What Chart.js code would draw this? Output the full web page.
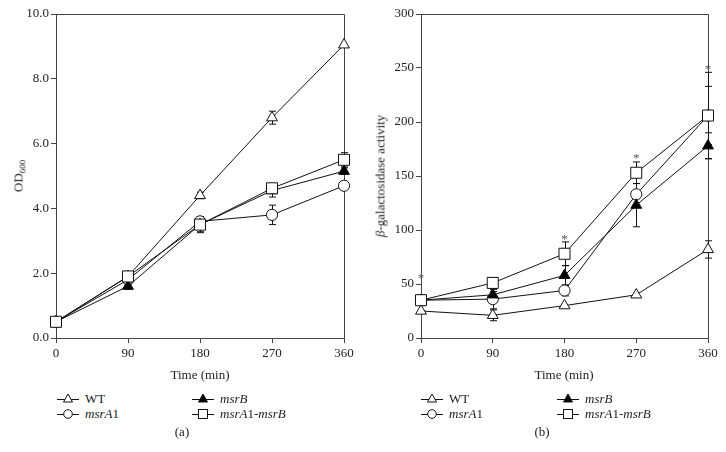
<!DOCTYPE html>
<html>
<head>
<meta charset="utf-8">
<script src="https://cdn.jsdelivr.net/npm/chart.js@4/dist/chart.umd.min.js"></script>
<style>
body { margin: 0; background: #fff; font-family: "Liberation Serif", "Times New Roman", serif; color: #222; }
#wrap { position: relative; width: 726px; height: 452px; overflow: hidden; }
canvas { position: absolute; top: 0; }
.txt { position: absolute; font-size: 13px; white-space: nowrap; line-height: 1; }
.ctr { transform: translate(-50%, -50%); }
.rot { transform: translate(-50%, -50%) rotate(-90deg); }
.leg { position: absolute; height: 14px; display: flex; align-items: center; font-size: 13px; white-space: nowrap; transform: translateY(-50%); }
.leg svg { margin-right: 6px; }
sub { font-size: 9px; vertical-align: -3px; line-height: 0; }
</style>
</head>
<body>
<div id="wrap">
  <canvas id="chartA" width="363" height="370" style="left:0"></canvas>
  <canvas id="chartB" width="363" height="370" style="left:363px"></canvas>

  <div class="txt rot" style="left:18px; top:176px">OD<sub>600</sub></div>
  <div class="txt rot" style="left:380px; top:176px"><i>β</i>-galactosidase activity</div>
  <div class="txt ctr" style="left:200px; top:374px">Time (min)</div>
  <div class="txt ctr" style="left:564px; top:374px">Time (min)</div>
  <div id="legends"></div>
  <div class="txt ctr" style="left:182px; top:431px">(a)</div>
  <div class="txt ctr" style="left:542px; top:431px">(b)</div>
</div>
<script>
// Zeitpunkte (min)
const times = [0, 90, 180, 270, 360];
const seriesNames = ['WT', 'msrA1', 'msrB', 'msrA1-msrB'];

// (a) OD600
const odWT = [0.5, 1.9, 4.4, 6.8, 9.05];
const odA1 = [0.5, 1.8, 3.6, 3.8, 4.7];
const odB = [0.5, 1.6, 3.5, 4.55, 5.15];
const odA1B = [0.5, 1.9, 3.5, 4.62, 5.5];
const odWTErr = [0, 0.1, 0.1, 0.2, 0];
const odA1Err = [0, 0.1, 0.1, 0.3, 0.05];
const odBErr = [0, 0.1, 0.25, 0.2, 0.1];
const odA1BErr = [0, 0.15, 0.22, 0.1, 0.22];

// (b) beta-Galactosidase
const galWT = [25, 21, 30, 40, 82];
const galA1 = [35, 36, 44, 133, 206];
const galB = [35, 40, 58, 123, 178];
const galA1B = [35, 51, 78, 153, 206];
const galWTErr = [0, 5, 0, 0, 8];
const galA1Err = [0, 9, 5, 0, 27];
const galBErr = [0, 3, 9, 20, 12];
const galA1BErr = [0, 5, 11, 10, 40];

// Signifikanz-Sterne (b)
const starTimes = [0, 180, 270, 360];
const starValues = [58, 94, 169, 252];

const odTicks = [0, 2, 4, 6, 8, 10];
const galTicks = [0, 50, 100, 150, 200, 250, 300];

const markerStyles = [
    { pointStyle: 'triangle', radius: 6.3, fill: '#fff' },
    { pointStyle: 'circle', radius: 5.6, fill: '#fff' },
    { pointStyle: 'triangle', radius: 6.3, fill: '#000' },
    { pointStyle: 'rect', radius: 7.8, fill: '#fff' }
];
const drawOrder = [3, 2, 1, 0];
const FRAME = '#444';
const FONT = '"Liberation Serif", "Times New Roman", serif';

const errorBars = {
    id: 'errorBars',
    beforeDatasetsDraw(chart) {
        const { ctx, scales: { x, y }, chartArea: a } = chart;
        ctx.save();
        // Rahmen oben und rechts
        ctx.strokeStyle = FRAME;
        ctx.lineWidth = 1;
        ctx.beginPath();
        ctx.moveTo(a.left, a.top + 0.5);
        ctx.lineTo(a.right + 0.5, a.top + 0.5);
        ctx.lineTo(a.right + 0.5, a.bottom);
        ctx.stroke();
        ctx.strokeStyle = '#111';
        chart.data.datasets.forEach(ds => {
            ds.data.forEach((p, i) => {
                const e = ds.err[i];
                if (!e) return;
                const px = Math.round(x.getPixelForValue(p.x)) + 0.5;
                const top = y.getPixelForValue(p.y + e);
                const bot = y.getPixelForValue(p.y - e);
                ctx.beginPath();
                ctx.moveTo(px, top); ctx.lineTo(px, bot);
                ctx.moveTo(px - 3.5, top); ctx.lineTo(px + 3.5, top);
                ctx.moveTo(px - 3.5, bot); ctx.lineTo(px + 3.5, bot);
                ctx.stroke();
            });
        });
        ctx.restore();
    },
    afterDatasetsDraw(chart, args, opts) {
        if (!opts.stars) return;
        const { ctx, scales: { x, y } } = chart;
        ctx.save();
        ctx.fillStyle = '#555';
        ctx.font = '13px ' + FONT;
        ctx.textAlign = 'center';
        ctx.textBaseline = 'alphabetic';
        opts.stars.x.forEach((t, i) => {
            ctx.fillText('*', x.getPixelForValue(t), y.getPixelForValue(opts.stars.y[i]) + 7);
        });
        ctx.restore();
    }
};

function renderPanel(canvasId, seriesValues, seriesErrors, yTicks, decimals, yWidth, padRight, stars) {
    const ctx = document.getElementById(canvasId).getContext('2d');
    return new Chart(ctx, {
        type: 'line',
        data: {
            datasets: seriesValues.map((vals, k) => ({
                label: seriesNames[k],
                data: times.map((t, i) => ({ x: t, y: vals[i] })),
                err: seriesErrors[k],
                borderColor: '#111',
                borderWidth: 1,
                pointStyle: markerStyles[k].pointStyle,
                pointRadius: markerStyles[k].radius,
                pointBackgroundColor: markerStyles[k].fill,
                pointBorderColor: '#111',
                pointBorderWidth: 1,
                order: drawOrder[k],
                clip: false,
                tension: 0
            }))
        },
        options: {
            responsive: false,
            animation: false,
            devicePixelRatio: 1,
            layout: { padding: { top: 14, right: padRight, left: 0, bottom: 0 } },
            plugins: {
                legend: { display: false },
                tooltip: { enabled: false },
                errorBars: { stars: stars }
            },
            scales: {
                x: {
                    type: 'linear', min: 0, max: 360,
                    afterBuildTicks: s => { s.ticks = times.map(v => ({ value: v })); },
                    afterFit: s => { s.height = 32; },
                    ticks: { color: '#222', font: { family: FONT, size: 13 }, padding: 3, maxRotation: 0 },
                    grid: { display: true, drawOnChartArea: false, drawTicks: true, tickLength: 5, color: FRAME },
                    border: { display: true, color: FRAME, width: 1 }
                },
                y: {
                    type: 'linear', min: yTicks[0], max: yTicks[yTicks.length - 1],
                    afterBuildTicks: s => { s.ticks = yTicks.map(v => ({ value: v })); },
                    afterFit: s => { s.width = yWidth; },
                    ticks: { color: '#222', font: { family: FONT, size: 13 }, padding: 2,
                             callback: v => v.toFixed(decimals) },
                    grid: { display: true, drawOnChartArea: false, drawTicks: true, tickLength: 5, color: FRAME },
                    border: { display: true, color: FRAME, width: 1 }
                }
            }
        },
        plugins: [errorBars]
    });
}

// Legende (HTML)
function legendIcon(k) {
    const m = markerStyles[k];
    let shape;
    if (m.pointStyle === 'triangle') shape = `<polygon points="11,2 15.5,10 6.5,10" fill="${m.fill}" stroke="#111"/>`;
    else if (m.pointStyle === 'circle') shape = `<circle cx="11" cy="7" r="4.3" fill="#fff" stroke="#111"/>`;
    else shape = `<rect x="6.5" y="2.5" width="9" height="9" fill="#fff" stroke="#111"/>`;
    return `<svg width="22" height="14"><line x1="0" y1="7.5" x2="22" y2="7.5" stroke="#111"/>${shape}</svg>`;
}
const legendLabels = ['WT', '<i>msrA</i>1', '<i>msrB</i>', '<i>msrA</i>1-<i>msrB</i>'];
const legendCols = [[57, 192], [421, 557]];
const legendRows = [399, 414];
const legendSlots = [[0, 0], [1, 0], [0, 1], [1, 1]]; // [row, col]

function buildLegends() {
    const box = document.getElementById('legends');
    box.innerHTML = legendCols.map(cols => legendSlots.map(([r, c], k) =>
        `<div class="leg" style="left:${cols[c]}px; top:${legendRows[r]}px">${legendIcon(k)}${legendLabels[k]}</div>`
    ).join('')).join('');
}

document.addEventListener('DOMContentLoaded', () => {
    renderPanel('chartA', [odWT, odA1, odB, odA1B], [odWTErr, odA1Err, odBErr, odA1BErr], odTicks, 1, 56, 19, null);
    renderPanel('chartB', [galWT, galA1, galB, galA1B], [galWTErr, galA1Err, galBErr, galA1BErr], galTicks, 0, 58, 18,
        { x: starTimes, y: starValues });
    buildLegends();
});
</script>
</body>
</html>
